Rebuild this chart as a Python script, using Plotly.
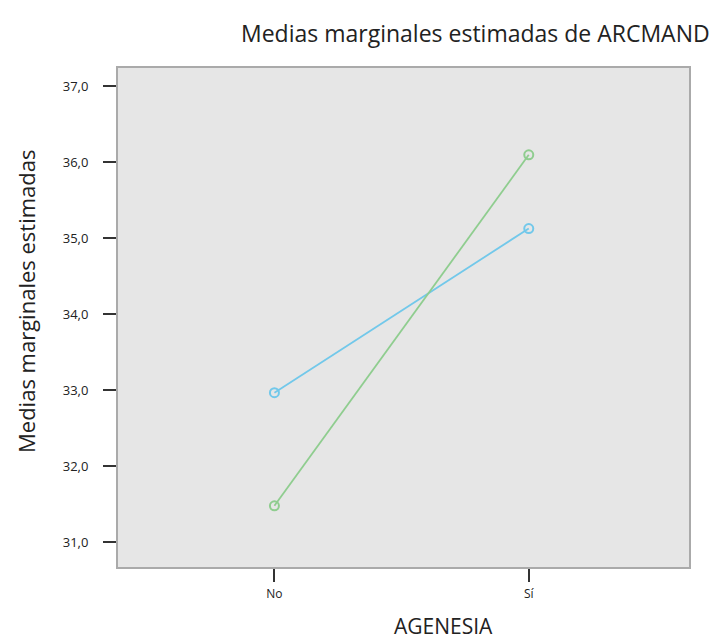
import plotly.graph_objects as go

categories = ["No", "Sí"]
cat_pos = [0, 1]
serie_azul = [32.97, 35.13]
serie_verde = [31.48, 36.10]
y_ticks = [31, 32, 33, 34, 35, 36, 37]

L, R, T, B = 118, 25, 68, 77
W, H = 714, 644
pw = W - L - R
ph = H - T - B


def px2paper(px, py):
    return (px - L) / pw, 1 - (py - T) / ph


fig = go.Figure()
fig.add_trace(go.Scatter(x=cat_pos, y=serie_azul, mode="lines+markers",
                         line=dict(color="#72c8ea", width=1.8),
                         marker=dict(symbol="circle-open", size=9, color="#72c8ea", line=dict(width=2)),
                         showlegend=False))
fig.add_trace(go.Scatter(x=cat_pos, y=serie_verde, mode="lines+markers",
                         line=dict(color="#8fcd8f", width=1.8),
                         marker=dict(symbol="circle-open", size=9, color="#8fcd8f", line=dict(width=2)),
                         showlegend=False))

tx, ty = px2paper(712, 33)
ax_, ay_ = px2paper(443, 626)
yx, yy = px2paper(26, 302)

fig.update_layout(
    width=W, height=H,
    margin=dict(l=L, r=R, t=T, b=B),
    paper_bgcolor="white", plot_bgcolor="#e6e6e6",
    separators=",.",
    font=dict(family="Open Sans", color="#222"),
    showlegend=False,
    annotations=[
        dict(text="Medias marginales estimadas de ARCMAND", x=tx, y=ty, xref="paper", yref="paper",
             xanchor="right", yanchor="middle", showarrow=False, font=dict(size=23, color="#222")),
        dict(text="AGENESIA", x=ax_, y=ay_, xref="paper", yref="paper",
             xanchor="center", yanchor="middle", showarrow=False, font=dict(size=21, color="#222")),
        dict(text="Medias marginales estimadas", x=yx, y=yy, xref="paper", yref="paper",
             xanchor="center", yanchor="middle", textangle=-90, showarrow=False,
             font=dict(size=22, color="#222")),
    ],
)

fig.update_xaxes(range=[-0.615, 1.63], tickvals=cat_pos, ticktext=categories,
                 showgrid=False, zeroline=False,
                 showline=True, mirror=True, linecolor="#aaaaaa", linewidth=2,
                 ticks="outside", ticklen=13, tickwidth=2, tickcolor="#333",
                 tickfont=dict(size=12, color="#222"), ticklabelstandoff=2)
fig.update_yaxes(range=[30.675, 37.243], tickvals=y_ticks, tickformat=".1f",
                 showgrid=False, zeroline=False,
                 showline=True, mirror=True, linecolor="#aaaaaa", linewidth=2,
                 ticks="outside", ticklen=13, tickwidth=2, tickcolor="#333",
                 tickfont=dict(size=13, color="#222"), ticklabelstandoff=12)

fig.write_html("out.html")
